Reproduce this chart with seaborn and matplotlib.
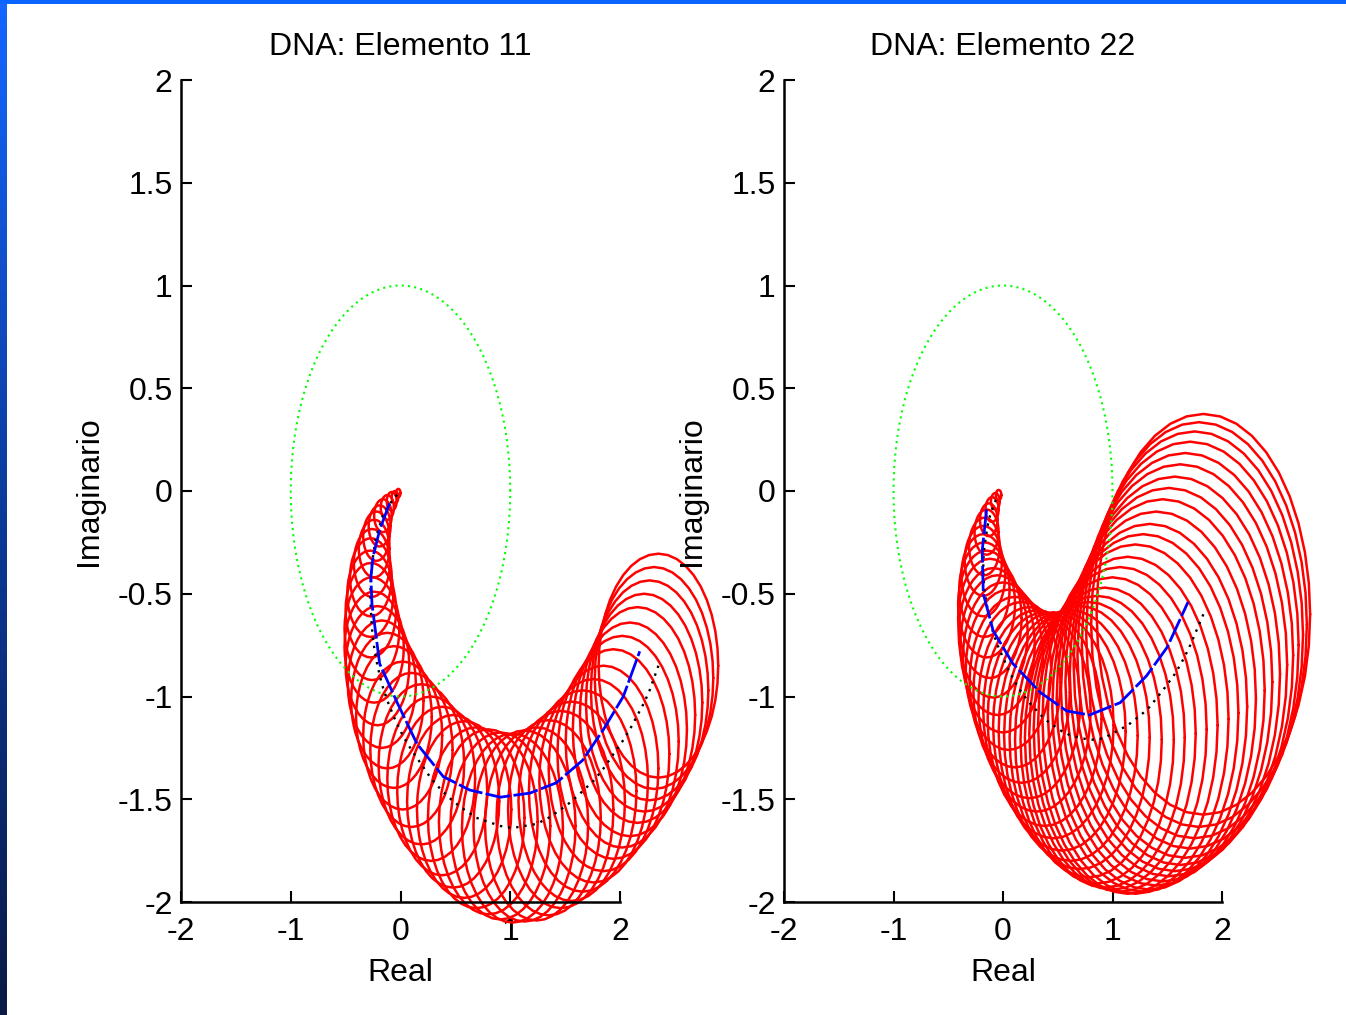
import numpy as np
import pandas as pd
import matplotlib
matplotlib.use("Agg")
import matplotlib.pyplot as plt
import seaborn as sns

# ---------------------------------------------------------------- data
titles = ["DNA: Elemento 11", "DNA: Elemento 22"]
xticks = [-2, -1, 0, 1, 2]
yticks = [-2, -1.5, -1, -0.5, 0, 0.5, 1, 1.5, 2]
ytick_labels = ["-2", "-1.5", "-1", "-0.5", "0", "0.5", "1", "1.5", "2"]
xtick_labels = ["-2", "-1", "0", "1", "2"]

# Element 11: nominal response (circle centres) and uncertainty radii
e11_re = [2.35, 2.31, 2.27, 2.22, 2.16, 2.09, 2.02, 1.94, 1.85, 1.76,
          1.66, 1.56, 1.46, 1.35, 1.24, 1.13, 1.02, 0.91, 0.80, 0.69,
          0.58, 0.48, 0.38, 0.28, 0.19, 0.10, 0.02, -0.06, -0.12, -0.17,
          -0.21, -0.24, -0.26, -0.27, -0.275, -0.27, -0.26, -0.24, -0.22, -0.19,
          -0.16, -0.12, -0.08, -0.05, -0.02]
e11_im = [-0.85, -0.91, -0.97, -1.03, -1.09, -1.16, -1.22, -1.28, -1.35, -1.41,
          -1.46, -1.51, -1.55, -1.59, -1.62, -1.63, -1.64, -1.63, -1.61, -1.59,
          -1.55, -1.51, -1.46, -1.40, -1.33, -1.26, -1.19, -1.10, -1.02, -0.94,
          -0.85, -0.76, -0.67, -0.58, -0.50, -0.42, -0.35, -0.28, -0.22, -0.17,
          -0.12, -0.08, -0.05, -0.03, -0.01]
e11_rad = [0.545, 0.54, 0.535, 0.53, 0.525, 0.52, 0.515, 0.51, 0.50, 0.495,
           0.49, 0.485, 0.48, 0.475, 0.47, 0.465, 0.46, 0.455, 0.45, 0.44,
           0.43, 0.42, 0.41, 0.40, 0.39, 0.375, 0.36, 0.345, 0.33, 0.31,
           0.29, 0.27, 0.25, 0.23, 0.21, 0.19, 0.165, 0.14, 0.12, 0.10,
           0.08, 0.06, 0.045, 0.03, 0.02]
# Element 11: identified response
e11_blue_re = [-0.10, -0.19, -0.25, -0.27, -0.26, -0.19, -0.03, 0.15, 0.39, 0.63,
               0.91, 1.18, 1.42, 1.66, 1.85, 2.03, 2.18]
e11_blue_im = [-0.06, -0.19, -0.32, -0.42, -0.55, -0.84, -1.03, -1.23, -1.39, -1.455,
               -1.49, -1.47, -1.42, -1.31, -1.16, -1.00, -0.78]

# Element 22: nominal response (circle centres) and uncertainty radii
e22_re = [1.83, 1.79, 1.75, 1.71, 1.665, 1.62, 1.57, 1.515, 1.46, 1.40,
          1.34, 1.28, 1.21, 1.14, 1.07, 1.00, 0.93, 0.86, 0.78, 0.70,
          0.62, 0.54, 0.46, 0.38, 0.31, 0.24, 0.17, 0.11, 0.05, 0.00,
          -0.05, -0.09, -0.12, -0.15, -0.17, -0.18, -0.18, -0.17, -0.15, -0.13,
          -0.10, -0.07, -0.04]
e22_im = [-0.60, -0.65, -0.70, -0.75, -0.80, -0.845, -0.89, -0.93, -0.97, -1.01,
          -1.05, -1.08, -1.11, -1.14, -1.16, -1.18, -1.20, -1.21, -1.21, -1.20,
          -1.19, -1.17, -1.14, -1.11, -1.07, -1.03, -0.98, -0.93, -0.87, -0.81,
          -0.75, -0.69, -0.62, -0.55, -0.48, -0.41, -0.34, -0.27, -0.20, -0.14,
          -0.09, -0.05, -0.02]
e22_rad = [0.975, 0.985, 0.99, 0.99, 0.985, 0.975, 0.96, 0.945, 0.93, 0.91,
           0.89, 0.87, 0.85, 0.82, 0.79, 0.76, 0.73, 0.70, 0.67, 0.64,
           0.61, 0.58, 0.55, 0.52, 0.49, 0.465, 0.44, 0.415, 0.39, 0.365,
           0.34, 0.315, 0.29, 0.26, 0.23, 0.20, 0.17, 0.14, 0.11, 0.08,
           0.06, 0.04, 0.025]
# Element 22: identified response
e22_blue_re = [-0.15, -0.19, -0.18, -0.09, 0.09, 0.34, 0.58, 0.79, 1.07, 1.31, 1.50, 1.69]
e22_blue_im = [-0.09, -0.29, -0.50, -0.68, -0.84, -0.98, -1.07, -1.09, -1.03, -0.90, -0.76, -0.54]

# unit circle reference
unit_center = (0.0, 0.0)
unit_radius = 1.0

panels = [
    (e11_re, e11_im, e11_rad, e11_blue_re, e11_blue_im),
    (e22_re, e22_im, e22_rad, e22_blue_re, e22_blue_im),
]

# ---------------------------------------------------------------- style
sns.set_theme(style="ticks")
plt.rcParams["font.family"] = ["Liberation Sans", "DejaVu Sans"]
plt.rcParams["axes.unicode_minus"] = False
plt.rcParams["text.color"] = "black"
plt.rcParams["axes.labelcolor"] = "black"

W, H = 1346, 1015
FS = 23
fig = plt.figure(figsize=(W / 100, H / 100), dpi=100)
fig.patch.set_facecolor("white")

# slide frame: blue strip on top and gradient strip on the left
top = fig.add_axes([0, 1 - 4 / H, 1, 4 / H])
top.set_facecolor("#0a64ff")
top.set_xticks([]); top.set_yticks([])
for s in top.spines.values():
    s.set_visible(False)
left = fig.add_axes([0, 0, 7 / W, 1 - 4 / H])
grad = np.linspace(0, 1, 256)[:, None]
cmap = matplotlib.colors.LinearSegmentedColormap.from_list("frame", ["#0a1a45", "#0b3a9a", "#1466ff"])
left.imshow(grad, aspect="auto", cmap=cmap, origin="lower", extent=[0, 1, 0, 1])
left.set_axis_off()

theta = np.linspace(0, 2 * np.pi, 41)
ax_rects = [[181 / W, 1 - 902 / H, 439 / W, 822 / H],
            [784 / W, 1 - 902 / H, 438 / W, 822 / H]]

for rect, title, (cre, cim, rad, bre, bim) in zip(ax_rects, titles, panels):
    ax = fig.add_axes(rect)
    # uncertainty discs around the nominal response
    for x0, y0, r in zip(cre, cim, rad):
        ax.plot(x0 + r * np.cos(theta), y0 + r * np.sin(theta),
                color="#ff0000", lw=1.8, solid_joinstyle="miter", zorder=2)
    # unit circle
    ax.plot(unit_center[0] + unit_radius * np.cos(np.linspace(0, 2 * np.pi, 200)),
            unit_center[1] + unit_radius * np.sin(np.linspace(0, 2 * np.pi, 200)),
            color="#00ff00", lw=1.5, ls=(0, (1, 2)), zorder=3)
    nominal = pd.DataFrame({"re": cre, "im": cim})
    sns.lineplot(data=nominal, x="re", y="im", sort=False, estimator=None,
                 color="black", lw=1.7, ls=(0, (1, 2.5)), ax=ax, zorder=4)
    ident = pd.DataFrame({"re": bre, "im": bim})
    sns.lineplot(data=ident, x="re", y="im", sort=False, estimator=None,
                 color="#0000ff", lw=2.0, ls=(0, (9, 1.2)), ax=ax, zorder=5)

    ax.set_xlim(-2, 2)
    ax.set_ylim(-2, 2)
    ax.set_xticks(xticks)
    ax.set_xticklabels(xtick_labels)
    ax.set_yticks(yticks)
    ax.set_yticklabels(ytick_labels)
    ax.tick_params(direction="in", length=8, width=1.5, labelsize=FS,
                   colors="black", labelcolor="black", pad=6)
    ax.tick_params(axis="x", pad=11)
    for side in ("top", "right"):
        ax.spines[side].set_visible(False)
    for side in ("left", "bottom"):
        ax.spines[side].set_linewidth(1.8)
        ax.spines[side].set_color("black")
    ax.set_facecolor("none")
    ax.set_title(title, fontsize=FS, pad=18, color="black")
    ax.set_xlabel("Real", fontsize=FS, labelpad=8, color="black")
    ax.set_ylabel("Imaginario", fontsize=FS, labelpad=10, color="black")
    for ln in ax.lines:
        ln.set_clip_on(False)

fig.savefig("out.png", dpi=100)
